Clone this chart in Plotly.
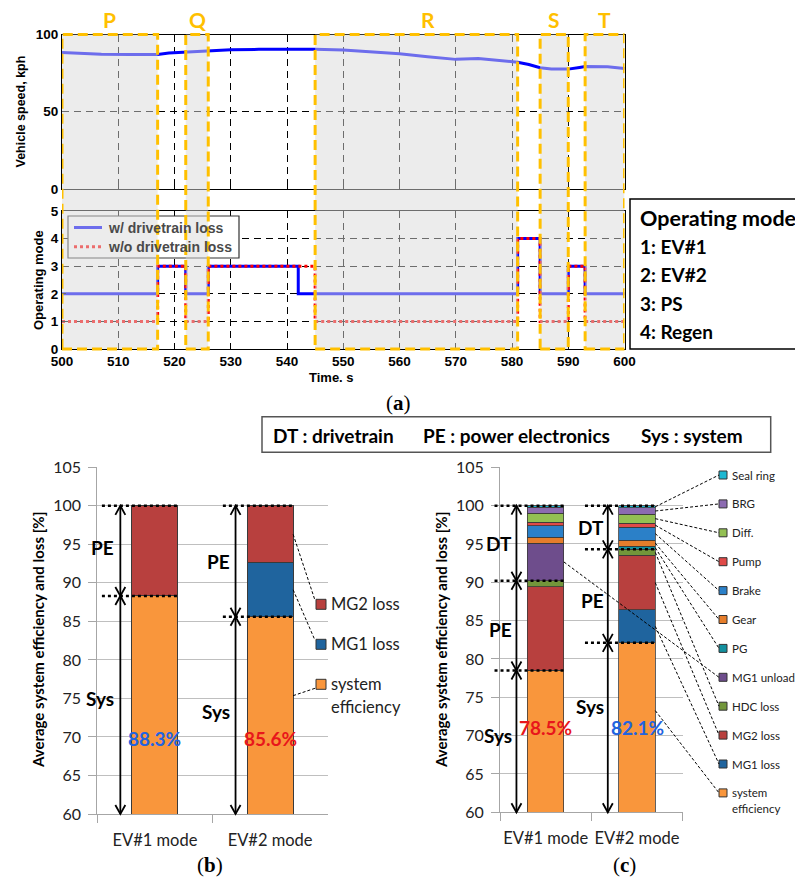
import plotly.graph_objects as go

OFF = 0
FW, FH = 795, 879


def px(x):
    return (x - OFF) / FW


def py(y):
    return 1 - (y - OFF) / FH


# ---------------- data: panel (a) ----------------
time_speed = [500, 503, 507, 512, 517, 519, 522, 526, 530, 535, 540, 545, 550, 555,
              560, 565, 570, 574, 577, 581, 583, 585, 587, 590, 592, 593, 597, 600]
speed_kph = [88.4, 87.9, 87.2, 87.1, 87.1, 88.0, 88.6, 89.2, 90.1, 90.4, 90.5, 90.5, 89.9, 88.9,
             87.5, 85.6, 83.9, 84.5, 83.4, 82.1, 80.6, 78.5, 77.7, 77.6, 78.7, 79.3, 79.2, 78.0]

mode_time = [500, 517, 522, 526, 542, 545, 581, 585, 590, 593, 600]
mode_with_loss = [2, 3, 2, 3, 2, 2, 4, 2, 3, 2, 2]
mode_without_loss = [1, 3, 1, 3, 3, 1, 4, 1, 3, 1, 1]

region_names = ["P", "Q", "R", "S", "T"]
region_start = [500, 522, 545, 585, 593]
region_end = [517, 526, 581, 590, 600]

mode_legend_title = "Operating mode"
mode_legend_items = ["1: EV#1", "2: EV#2", "3: PS", "4: Regen"]
series_a = ["w/ drivetrain loss", "w/o drivetrain loss"]

# ---------------- data: panels (b) and (c) ----------------
modes = ["EV#1 mode", "EV#2 mode"]

b_sys = [88.3, 85.6]
b_mg1 = [0.0, 7.0]
b_mg2 = [11.7, 7.4]

c_sys = [78.5, 82.1]
c_mg1 = [0.0, 4.3]
c_mg2 = [10.9, 7.1]
c_hdc = [0.8, 0.8]
c_mg1_unload = [4.9, 0.0]
c_pg = [0.0, 0.4]
c_gear = [0.8, 0.8]
c_brake = [1.5, 1.7]
c_pump = [0.4, 0.5]
c_diff = [1.2, 1.2]
c_brg = [0.8, 0.8]
c_seal = [0.2, 0.3]

colors = {
    "system efficiency": "#F9963C",
    "MG1 loss": "#1F649E",
    "MG2 loss": "#B8403E",
    "HDC loss": "#72963A",
    "MG1 unload": "#6E4D8C",
    "PG": "#12909E",
    "Gear": "#E57D2B",
    "Brake": "#2B80C8",
    "Pump": "#E04A48",
    "Diff.": "#93C053",
    "BRG": "#8C6BB1",
    "Seal ring": "#1DB8D2",
}

b_stack = [("system efficiency", b_sys), ("MG1 loss", b_mg1), ("MG2 loss", b_mg2)]
c_stack = [("system efficiency", c_sys), ("MG1 loss", c_mg1), ("MG2 loss", c_mg2),
           ("HDC loss", c_hdc), ("MG1 unload", c_mg1_unload), ("PG", c_pg),
           ("Gear", c_gear), ("Brake", c_brake), ("Pump", c_pump), ("Diff.", c_diff),
           ("BRG", c_brg), ("Seal ring", c_seal)]

# ---------------- layout constants ----------------
XA = [px(62), px(624.5)]
YA_TOP = [py(189), py(34.5)]
YA_BOT = [py(349), py(211)]
XB = [px(97.3), px(327.7)]
YB = [py(814), py(467.3)]
XC = [px(500), px(682.7)]
YC = [py(812.3), py(467.3)]

ARIAL = "Liberation Sans"
CAL = "Lato"

fig = go.Figure()

# ---------------- panel (a) traces ----------------
fig.add_trace(go.Scatter(x=time_speed, y=speed_kph, mode="lines",
                         line=dict(color="#0000FF", width=3),
                         xaxis="x", yaxis="y", showlegend=False))
fig.add_trace(go.Scatter(x=mode_time, y=mode_with_loss, mode="lines", name=series_a[0],
                         line=dict(color="#0000FF", width=3, shape="hv"),
                         xaxis="x2", yaxis="y2", showlegend=False))
fig.add_trace(go.Scatter(x=mode_time, y=mode_without_loss, mode="lines", name=series_a[1],
                         line=dict(color="#FF0000", width=3, shape="hv", dash="dot"),
                         xaxis="x2", yaxis="y2", showlegend=False))

# ---------------- panel (b), (c) bars ----------------
for name, vals in b_stack:
    fig.add_trace(go.Bar(x=modes, y=vals, name=name, width=0.4,
                         marker=dict(color=colors[name], line=dict(color="#3a3a3a", width=1)),
                         xaxis="x3", yaxis="y3", showlegend=False))
for name, vals in c_stack:
    fig.add_trace(go.Bar(x=modes, y=vals, name=name, width=0.4,
                         marker=dict(color=colors[name], line=dict(color="#3a3a3a", width=0.8)),
                         xaxis="x4", yaxis="y4", showlegend=False))

shapes = []
annotations = []


def note(x, y, text, font, xanchor="center", yanchor="middle", **kw):
    annotations.append(dict(xref=kw.pop("xref", "paper"), yref=kw.pop("yref", "paper"), x=x, y=y,
                            text=text, showarrow=False, xanchor=xanchor, yanchor=yanchor,
                            font=font, **kw))


# ---------------- panel (a) manual legend (below shading) ----------------
shapes.append(dict(type="rect", xref="paper", yref="paper", x0=px(68), x1=px(239),
                   y0=py(258), y1=py(216), fillcolor="white", line=dict(color="#333", width=1.2)))
shapes.append(dict(type="line", xref="paper", yref="paper", x0=px(74), x1=px(102),
                   y0=py(227.5), y1=py(227.5), line=dict(color="#0000FF", width=3)))
shapes.append(dict(type="line", xref="paper", yref="paper", x0=px(74), x1=px(102),
                   y0=py(246.7), y1=py(246.7), line=dict(color="#FF0000", width=3, dash="dot")))
for i, t in enumerate(series_a):
    note(px(106), py(227.5 + 19.2 * i), t,
         dict(family=ARIAL, size=14, color="#4a4a4a", weight="bold"), xanchor="left")

# shading + orange dashed rectangles spanning both (a) plots
for s, e in zip(region_start, region_end):
    shapes.append(dict(type="rect", xref="x", yref="paper", x0=s, x1=e,
                       y0=YA_BOT[0], y1=YA_TOP[1], fillcolor="rgba(218,218,218,0.5)",
                       line=dict(width=0), layer="above"))
for s, e in zip(region_start, region_end):
    shapes.append(dict(type="rect", xref="x", yref="paper", x0=s, x1=e,
                       y0=YA_BOT[0], y1=YA_TOP[1], fillcolor="rgba(0,0,0,0)",
                       line=dict(color="#FFC000", width=3, dash="10px,5px"), layer="above"))
label_shift = {"R": 2.0}
for n, s, e in zip(region_names, region_start, region_end):
    note((s + e) / 2 + label_shift.get(n, 0), py(20), n,
         dict(family=CAL, size=21, color="#FFC000", weight="bold"), xref="x")

# operating-mode box
shapes.append(dict(type="rect", xref="paper", yref="paper", x0=px(630), x1=px(830),
                   y0=py(349), y1=py(199), line=dict(color="black", width=1.5)))
note(px(637.5), py(217.7), mode_legend_title,
     dict(family=CAL, size=21.5, color="black", weight="bold"), xanchor="left")
for i, t in enumerate(mode_legend_items):
    note(px(637.5), py(246.7 + 28.2 * i), t,
         dict(family=CAL, size=19, color="black", weight="bold"), xanchor="left")

# axis titles (a)
note(px(21), py(111.5), "Vehicle speed, kph",
     dict(family=ARIAL, size=12.5, color="black", weight="bold"), textangle=-90)
note(px(38), py(280), "Operating mode",
     dict(family=ARIAL, size=13, color="black", weight="bold"), textangle=-90)
note(px(331), py(377), "Time. s", dict(family=ARIAL, size=13, color="black", weight="bold"))

# sub-figure labels
for lab, x, y, fs in [("a", 398, 403, 21), ("b", 210, 865, 21), ("c", 624, 865, 21)]:
    note(px(x), py(y), "(<b>%s</b>)" % lab, dict(family="Liberation Serif", size=fs, color="black"))

# DT/PE/Sys box
shapes.append(dict(type="rect", xref="paper", yref="paper", x0=px(262), x1=px(770.7),
                   y0=py(452.3), y1=py(416.7), line=dict(color="#555", width=1.5)))
for t, x in [("DT : drivetrain", 271), ("PE : power electronics", 421), ("Sys : system", 639)]:
    note(px(x), py(435), t, dict(family=CAL, size=19, color="black", weight="bold"), xanchor="left")

# ---------------- helpers for bar panels ----------------
PANEL = {"b": (XB, YB), "c": (XC, YC)}


def bx(p, c):
    d = PANEL[p][0]
    return d[0] + (c + 0.5) / 2 * (d[1] - d[0])


def by(p, v):
    d = PANEL[p][1]
    return d[0] + (v - 60) / 45 * (d[1] - d[0])


def vline_arrow(p, c, lo, hi):
    x = bx(p, c)
    ylo, yhi = by(p, lo), by(p, hi)
    hw, hl = 5 / FW, 9 / FH
    shapes.append(dict(type="line", xref="paper", yref="paper", x0=x, x1=x, y0=ylo, y1=yhi,
                       line=dict(color="black", width=1.8)))
    shapes.append(dict(type="path", xref="paper", yref="paper",
                       path="M %f,%f L %f,%f L %f,%f" % (x - hw, yhi - hl, x, yhi, x + hw, yhi - hl),
                       line=dict(color="black", width=1.8)))
    shapes.append(dict(type="path", xref="paper", yref="paper",
                       path="M %f,%f L %f,%f L %f,%f" % (x - hw, ylo + hl, x, ylo, x + hw, ylo + hl),
                       line=dict(color="black", width=1.8)))


def dotted(p, c0, c1, v):
    shapes.append(dict(type="line", xref="paper", yref="paper", x0=bx(p, c0), x1=bx(p, c1),
                       y0=by(p, v), y1=by(p, v), line=dict(color="black", width=2.5, dash="dot")))


def side_label(p, c, v, text, gap):
    note(bx(p, c) - gap / FW, by(p, v), text,
         dict(family=CAL, size=19, color="black", weight="bold"), xanchor="right")


def leader(x0, y0, x1, y1):
    shapes.append(dict(type="line", xref="paper", yref="paper", x0=x0, y0=y0, x1=x1, y1=y1,
                       line=dict(color="black", width=1, dash="3px,2px")))


def legend_entry(xsq, ysq, size, name, fsize, lines=None):
    shapes.append(dict(type="rect", xref="paper", yref="paper",
                       x0=px(xsq), x1=px(xsq + size), y0=py(ysq + size / 2), y1=py(ysq - size / 2),
                       fillcolor=colors[name], line=dict(color="#333", width=1)))
    for k, t in enumerate(lines or [name]):
        note(px(xsq + size + 3), py(ysq + k * fsize * 1.38), t,
             dict(family=CAL, size=fsize, color="#222"), xanchor="left")


pct_colors = {"blue": "#2263E0", "red": "#E8161B"}

# ---------------- panel (b) decorations ----------------
b_pct_col = [pct_colors["blue"], pct_colors["red"]]
for i in range(2):
    lo_pe = b_sys[i]
    top = b_sys[i] + b_mg1[i] + b_mg2[i]
    for v in (top, lo_pe):
        dotted("b", i - 0.46 if i == 0 else i - 0.41, i + 0.2, v)
    ax = i - 0.30
    vline_arrow("b", ax, lo_pe, top)
    vline_arrow("b", ax, 60, lo_pe)
    side_label("b", ax, (lo_pe + top) / 2 + (0.5 if i == 0 else 0), "PE", 4)
    side_label("b", ax, (60 + lo_pe) / 2 + (0.8 if i == 0 else 0.5), "Sys", 4)
    note(bx("b", i), by("b", 69.8), "%.1f%%" % b_sys[i],
         dict(family=CAL, size=19, color=b_pct_col[i], weight="bold"))

# legend (b)
b_leg = [("MG2 loss", 604.3), ("MG1 loss", 644.3), ("system efficiency", 684.3)]
for name, yy in b_leg:
    legend_entry(316, yy, 10, name, 16.5,
                 lines=["system", "efficiency"] if name == "system efficiency" else None)
cum = 0
bottoms = {}
for n, v in b_stack:
    bottoms[n] = (cum, cum + v[1])
    cum += v[1]
for name, yy in b_leg:
    lo, hi = bottoms[name]
    if name == "system efficiency":
        vy = 60 + 0.6 * (hi - 60)
        leader(bx("b", 1.2), by("b", vy), px(315), py(yy + 4))
    else:
        vy = (lo + hi) / 2
        leader(bx("b", 1.2), by("b", vy), px(315), py(yy - 4))

# ---------------- panel (c) decorations ----------------
c_pct_col = [pct_colors["red"], pct_colors["blue"]]
for i in range(2):
    sys_v = c_sys[i]
    pe_top = c_sys[i] + c_mg1[i] + c_mg2[i] + c_hdc[i]
    top = sum(v[i] for _, v in c_stack)
    x0d = i - 0.56 if i == 0 else i - 0.57
    for v in (top, pe_top, sys_v):
        dotted("c", x0d, i + 0.2, v)
    ax = i - 0.32
    vline_arrow("c", ax, pe_top, top)
    vline_arrow("c", ax, sys_v, pe_top)
    vline_arrow("c", ax, 60, sys_v)
    side_label("c", ax, (pe_top + top) / 2, "DT", 2)
    side_label("c", ax, (sys_v + pe_top) / 2 - (0.5 if i == 0 else 0.6), "PE", 2)
    side_label("c", ax, (60 + sys_v) / 2 + (0.8 if i == 0 else 2.8), "Sys", 2)
    note(bx("c", i), by("c", 71.1), "%.1f%%" % c_sys[i],
         dict(family=CAL, size=19, color=c_pct_col[i], weight="bold"))

c_leg_order = ["Seal ring", "BRG", "Diff.", "Pump", "Brake", "Gear", "PG", "MG1 unload",
               "HDC loss", "MG2 loss", "MG1 loss", "system efficiency"]
c_bounds = [{}, {}]
for i in range(2):
    cum = 0
    for n, v in c_stack:
        c_bounds[i][n] = (cum, cum + v[i])
        cum += v[i]
for k, name in enumerate(c_leg_order):
    yy = 475 + 28.9 * k
    legend_entry(719, yy, 8, name, 11.5,
                 lines=["system", "efficiency"] if name == "system efficiency" else None)
    src = 1 if c_bounds[1][name][1] - c_bounds[1][name][0] > 0 else 0
    lo, hi = c_bounds[src][name]
    if name == "system efficiency":
        vy = 60 + 0.6 * (hi - 60)
    else:
        vy = (lo + hi) / 2
    leader(bx("c", src + 0.2), by("c", vy), px(719), py(yy))

# y titles for bar panels
for xx in (38, 441):
    note(px(xx), py(640), "Average system efficiency and loss [%]",
         dict(family=CAL, size=15, color="black", weight="bold"), textangle=-90)

# ---------------- axes ----------------
grid_a = dict(showgrid=True, gridcolor="black", griddash="7px,5px", gridwidth=1,
              showline=True, mirror=True, linecolor="black", linewidth=1,
              ticks="inside", ticklen=4, tickcolor="black", zeroline=False, automargin=False)
tick_a = dict(family=ARIAL, size=13.5, color="black", weight="bold")

bar_y = dict(range=[60, 105], tickvals=list(range(60, 106, 5)), showgrid=True, gridcolor="#BFBFBF",
             gridwidth=1, showline=True, linecolor="#A6A6A6", ticks="outside", ticklen=8,
             tickcolor="#A6A6A6", zeroline=False, tickfont=dict(family=CAL, size=16, color="#222"),
             ticklabelstandoff=4, automargin=False)
bar_x = dict(type="category", range=[-0.5, 1.5], showgrid=False, showline=True, linecolor="#A6A6A6",
             ticks="outside", tickson="boundaries", ticklen=8, tickcolor="#A6A6A6", tickangle=0,
             ticklabelstandoff=11,
             tickfont=dict(family=CAL, size=16.5, color="#222"), automargin=False)

fig.update_layout(
    width=FW, height=FH, margin=dict(l=0, r=0, t=0, b=0, autoexpand=False),
    paper_bgcolor="white", plot_bgcolor="white", barmode="stack", showlegend=False,
    xaxis=dict(domain=XA, anchor="y", range=[500, 600], tickvals=list(range(500, 601, 10)),
               showticklabels=False, **grid_a),
    yaxis=dict(domain=YA_TOP, anchor="x", range=[0, 100], tickvals=[0, 50, 100],
               tickfont=tick_a, **grid_a),
    xaxis2=dict(domain=XA, anchor="y2", range=[500, 600], tickvals=list(range(500, 601, 10)),
                tickfont=tick_a, **grid_a),
    yaxis2=dict(domain=YA_BOT, anchor="x2", range=[0, 5], tickvals=[0, 1, 2, 3, 4, 5],
                tickfont=tick_a, **grid_a),
    xaxis3=dict(domain=XB, anchor="y3", **bar_x),
    yaxis3=dict(domain=YB, anchor="x3", **bar_y),
    xaxis4=dict(domain=XC, anchor="y4", **bar_x),
    yaxis4=dict(domain=YC, anchor="x4", **bar_y),
    shapes=shapes,
    annotations=annotations,
)

# remove the browser's default 8px page margin so the figure fills the window exactly
fig.write_html("out.html", config={"displayModeBar": False},
               post_script="document.body.style.margin='0';")
